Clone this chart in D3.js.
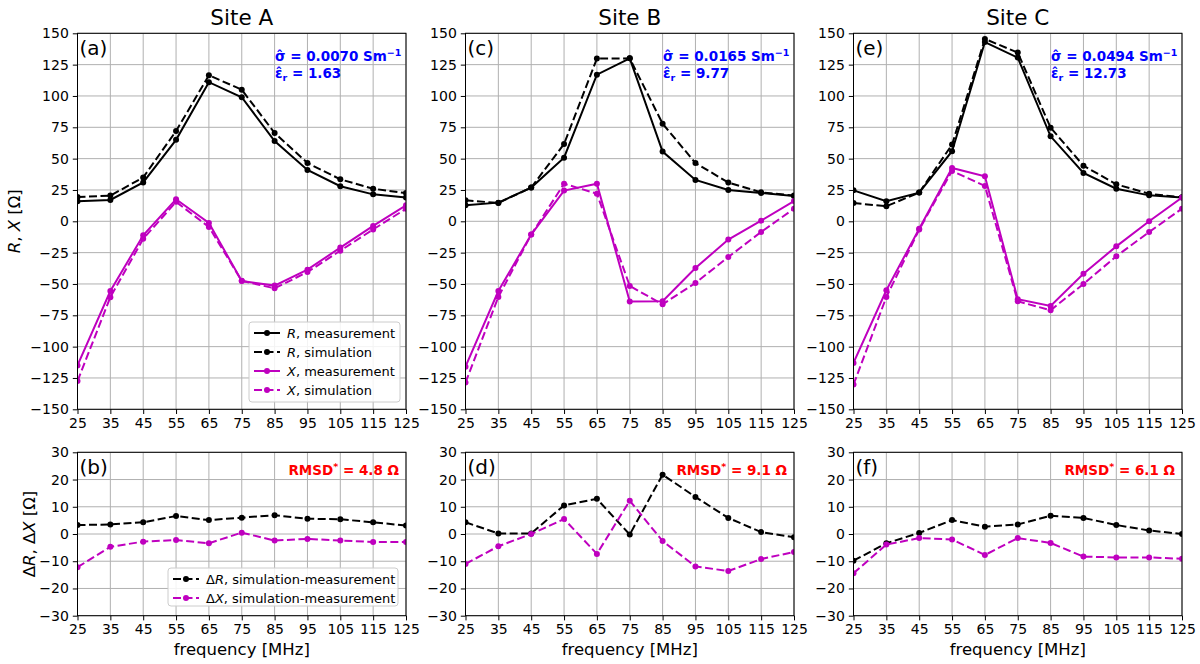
<!DOCTYPE html>
<html>
<head>
<meta charset="utf-8">
<title>R, X measurement vs simulation</title>
<script src="https://cdnjs.cloudflare.com/ajax/libs/d3/7.8.5/d3.min.js"></script>
<style>
  body {margin: 0; background: #fff;}
  svg {display: block; font-family: "DejaVu Sans", sans-serif;}
</style>
</head>
<body>
<div id="chart"></div>
<script>
// frequencies [MHz]
var freqs = [25, 35, 45, 55, 65, 75, 85, 95, 105, 115, 125];
var xTicks = freqs;
var yTicksTop = [-150, -125, -100, -75, -50, -25, 0, 25, 50, 75, 100, 125, 150];
var yTicksBottom = [-30, -20, -10, 0, 10, 20, 30];

var siteNames = ["Site A", "Site B", "Site C"];
var topLetters = ["(a)", "(c)", "(e)"];
var bottomLetters = ["(b)", "(d)", "(f)"];
var sigmaLabels = ["0.0070", "0.0165", "0.0494"];
var epsLabels = ["1.63", "9.77", "12.73"];
var rmsdLabels = ["4.8", "9.1", "6.1"];

// Site A
var rMeasA = [16, 17, 31, 65, 111, 99, 64, 41, 28, 21.5, 19];
var rSimA  = [19.4, 20.5, 35, 72, 116.5, 105, 70.5, 46.5, 33.5, 26, 22.5];
var xMeasA = [-115, -55.6, -11.2, 17.6, -1.3, -47.6, -51.3, -38.6, -21, -3.7, 12.8];
var xSimA  = [-127.5, -60.5, -14, 15.5, -4.5, -47.5, -53.5, -40.5, -23.5, -6.5, 10];
var dRA = [3.3, 3.5, 4.3, 6.6, 5.1, 6.0, 6.9, 5.6, 5.4, 4.3, 3.1];
var dXA = [-12.2, -4.7, -2.8, -2.2, -3.4, 0.5, -2.4, -1.8, -2.4, -2.9, -2.9];

// Site B
var rMeasB = [12.8, 14.9, 26.9, 50.8, 117, 130, 55.6, 33, 25, 22.6, 20.2];
var rSimB  = [16.8, 14.6, 26.9, 61.7, 129.8, 130, 77.9, 46.5, 30.9, 23.1, 20.5];
var xMeasB = [-116, -55.6, -10.6, 24.5, 30, -64, -63.8, -37.2, -14.6, 0.5, 16.2];
var xSimB  = [-128.7, -60.4, -10.6, 30, 22, -51.6, -66.2, -49.2, -28.5, -8.5, 10.1];
var dRB = [4.3, 0.2, 0.2, 10.5, 12.9, -0.2, 21.8, 13.6, 5.9, 0.7, -1.2];
var dXB = [-11, -4.5, 0, 5.5, -7.3, 12.2, -2.6, -11.9, -13.6, -9.2, -6.6];

// Site C
var rMeasC = [24.7, 16, 22.9, 55.9, 143, 130.6, 67.8, 38.6, 26, 20.7, 18.9];
var rSimC  = [14.6, 12, 22.9, 61.2, 145.5, 134.6, 74.7, 44.4, 29.5, 22, 19.1];
var xMeasC = [-113, -55, -5.9, 42.6, 35.9, -62.2, -67.6, -41.8, -20, 0, 18.9];
var xSimC  = [-130.3, -60.4, -6.6, 40.2, 28.2, -63.8, -71, -50, -27.9, -8.5, 10.1];
var dRC = [-9.8, -3.4, 0.4, 5.1, 2.7, 3.5, 6.7, 5.9, 3.3, 1.3, 0];
var dXC = [-14.4, -3.9, -1.5, -2, -7.7, -1.5, -3.3, -8.3, -8.6, -8.6, -9.1];

var topSeries = [
    [rMeasA, rSimA, xMeasA, xSimA],
    [rMeasB, rSimB, xMeasB, xSimB],
    [rMeasC, rSimC, xMeasC, xSimC]
];
var bottomSeries = [[dRA, dXA], [dRB, dXB], [dRC, dXC]];

var black = "#000", magenta = "#bf00bf";
var dash = "8,3.5";
var lw = 2;

var width = 1200, height = 664;
var colLeft = [77.5, 465.5, 853.5], plotW = 328.5;
var topY = [33.3, 409.3], botY = [452.3, 615.7];

var svg = d3.select("#chart").append("svg")
    .attr("width", width)
    .attr("height", height);

var clipId = 0;

function drawPanel(x0, yr, domain, yTicks, series) {
    var x = d3.scaleLinear().domain([25, 125]).range([x0, x0 + plotW]);
    var y = d3.scaleLinear().domain(domain).range([yr[1], yr[0]]);
    var g = svg.append("g");

    // grid
    g.selectAll(".gx").data(xTicks).enter().append("line")
        .attr("x1", d => x(d)).attr("x2", d => x(d))
        .attr("y1", yr[0]).attr("y2", yr[1])
        .attr("stroke", "#b0b0b0").attr("stroke-width", 1);
    g.selectAll(".gy").data(yTicks).enter().append("line")
        .attr("x1", x0).attr("x2", x0 + plotW)
        .attr("y1", d => y(d)).attr("y2", d => y(d))
        .attr("stroke", "#b0b0b0").attr("stroke-width", 1);

    var id = "clip" + (clipId++);
    svg.append("clipPath").attr("id", id).append("rect")
        .attr("x", x0).attr("y", yr[0]).attr("width", plotW).attr("height", yr[1] - yr[0]);
    var lines = g.append("g").attr("clip-path", "url(#" + id + ")");

    var line = d3.line().x((d, i) => x(freqs[i])).y(d => y(d));
    series.forEach(function(s) {
        lines.append("path")
            .attr("d", line(s.values))
            .attr("fill", "none")
            .attr("stroke", s.color)
            .attr("stroke-width", lw)
            .attr("stroke-dasharray", s.dashed ? dash : null);
        lines.selectAll(null).data(s.values).enter().append("circle")
            .attr("cx", (d, i) => x(freqs[i]))
            .attr("cy", d => y(d))
            .attr("r", 3)
            .attr("fill", s.color);
    });

    // axes
    var ax = g.append("g").attr("transform", "translate(0," + yr[1] + ")")
        .call(d3.axisBottom(x).tickValues(xTicks).tickSize(4.7).tickPadding(4));
    var ay = g.append("g").attr("transform", "translate(" + x0 + ",0)")
        .call(d3.axisLeft(y).tickValues(yTicks).tickSize(4.7).tickPadding(4));
    [ax, ay].forEach(function(a) {
        a.select(".domain").remove();
        a.selectAll("text").attr("font-size", 14).attr("fill", "#000")
            .attr("font-family", "DejaVu Sans");
        a.selectAll("line").attr("stroke", "#000").attr("stroke-width", 1);
    });

    // frame
    g.append("rect")
        .attr("x", x0).attr("y", yr[0]).attr("width", plotW).attr("height", yr[1] - yr[0])
        .attr("fill", "none").attr("stroke", "#000").attr("stroke-width", 1);
    return g;
}

function legend(x, y, w, h, rows) {
    var g = svg.append("g");
    g.append("rect").attr("x", x).attr("y", y).attr("width", w).attr("height", h)
        .attr("rx", 3).attr("fill", "#fff").attr("fill-opacity", 0.85)
        .attr("stroke", "#cccccc").attr("stroke-width", 1);
    rows.forEach(function(r, i) {
        var cy = y + 11 + i * 19;
        g.append("line").attr("x1", x + 5).attr("x2", x + 31)
            .attr("y1", cy).attr("y2", cy)
            .attr("stroke", r.color).attr("stroke-width", lw)
            .attr("stroke-dasharray", r.dashed ? dash : null);
        g.append("circle").attr("cx", x + 18).attr("cy", cy).attr("r", 3).attr("fill", r.color);
        var t = g.append("text").attr("x", x + 38).attr("y", cy + 4.5)
            .attr("font-size", 13).attr("fill", "#000");
        if (r.pre) t.append("tspan").text(r.pre);
        t.append("tspan").attr("font-style", "italic").text(r.sym);
        t.append("tspan").text(r.label);
    });
}

for (var c = 0; c < 3; c++) {
    var x0 = colLeft[c], x1 = x0 + plotW;
    var ts = topSeries[c], bs = bottomSeries[c];

    drawPanel(x0, topY, [-150, 150], yTicksTop, [
        {values: ts[0], color: black, dashed: false},
        {values: ts[1], color: black, dashed: true},
        {values: ts[2], color: magenta, dashed: false},
        {values: ts[3], color: magenta, dashed: true}
    ]);
    drawPanel(x0, botY, [-30, 30], yTicksBottom, [
        {values: bs[0], color: black, dashed: true},
        {values: bs[1], color: magenta, dashed: true}
    ]);

    // titles
    svg.append("text").attr("x", (x0 + x1) / 2).attr("y", 25)
        .attr("text-anchor", "middle").attr("font-size", 21.5).text(siteNames[c]);
    svg.append("text").attr("x", x0 + 2).attr("y", 55)
        .attr("font-size", 20).text(topLetters[c]);
    svg.append("text").attr("x", x0 + 2).attr("y", 474)
        .attr("font-size", 20).text(bottomLetters[c]);

    // sigma / epsilon annotation
    var s1 = svg.append("text").attr("x", x0 + 197.5).attr("y", 61)
        .attr("font-size", 13.5).attr("font-weight", "bold").attr("fill", "#0000ff");
    s1.append("tspan").text("\u03c3\u0302 = " + sigmaLabels[c] + " Sm");
    s1.append("tspan").attr("font-size", 9.5).attr("dy", -5).text("\u22121");
    var s2 = svg.append("text").attr("x", x0 + 197.5).attr("y", 78)
        .attr("font-size", 13.5).attr("font-weight", "bold").attr("fill", "#0000ff");
    s2.append("tspan").text("\u03b5\u0302");
    s2.append("tspan").attr("font-size", 9.5).attr("dy", 3).text("r");
    s2.append("tspan").attr("dy", -3).text(" = " + epsLabels[c]);

    // RMSD annotation
    var r1 = svg.append("text").attr("x", x1 - 7).attr("y", 475)
        .attr("text-anchor", "end")
        .attr("font-size", 13.5).attr("font-weight", "bold").attr("fill", "#ff0000");
    r1.append("tspan").text("RMSD");
    r1.append("tspan").attr("font-size", 9.5).attr("dy", -5).text("*");
    r1.append("tspan").attr("dy", 5).text(" = " + rmsdLabels[c] + " \u03a9");

    // x label
    svg.append("text").attr("x", (x0 + x1) / 2).attr("y", 655)
        .attr("text-anchor", "middle").attr("font-size", 16.5).text("frequency [MHz]");
}

// y labels
var yl1 = svg.append("text").attr("transform", "translate(20," + (topY[0] + topY[1]) / 2 + ") rotate(-90)")
    .attr("text-anchor", "middle").attr("font-size", 16.5);
yl1.append("tspan").attr("font-style", "italic").text("R");
yl1.append("tspan").text(", ");
yl1.append("tspan").attr("font-style", "italic").text("X");
yl1.append("tspan").text(" [\u03a9]");

var yl2 = svg.append("text").attr("transform", "translate(35," + (botY[0] + botY[1]) / 2 + ") rotate(-90)")
    .attr("text-anchor", "middle").attr("font-size", 16.5);
yl2.append("tspan").text("\u0394");
yl2.append("tspan").attr("font-style", "italic").text("R");
yl2.append("tspan").text(", \u0394");
yl2.append("tspan").attr("font-style", "italic").text("X");
yl2.append("tspan").text(" [\u03a9]");

// legends
legend(249, 322, 151, 80, [
    {color: black, dashed: false, sym: "R", label: ", measurement"},
    {color: black, dashed: true, sym: "R", label: ", simulation"},
    {color: magenta, dashed: false, sym: "X", label: ", measurement"},
    {color: magenta, dashed: true, sym: "X", label: ", simulation"}
]);
legend(168, 568, 230, 38, [
    {color: black, dashed: true, pre: "\u0394", sym: "R", label: ", simulation-measurement"},
    {color: magenta, dashed: true, pre: "\u0394", sym: "X", label: ", simulation-measurement"}
]);
</script>
</body>
</html>
